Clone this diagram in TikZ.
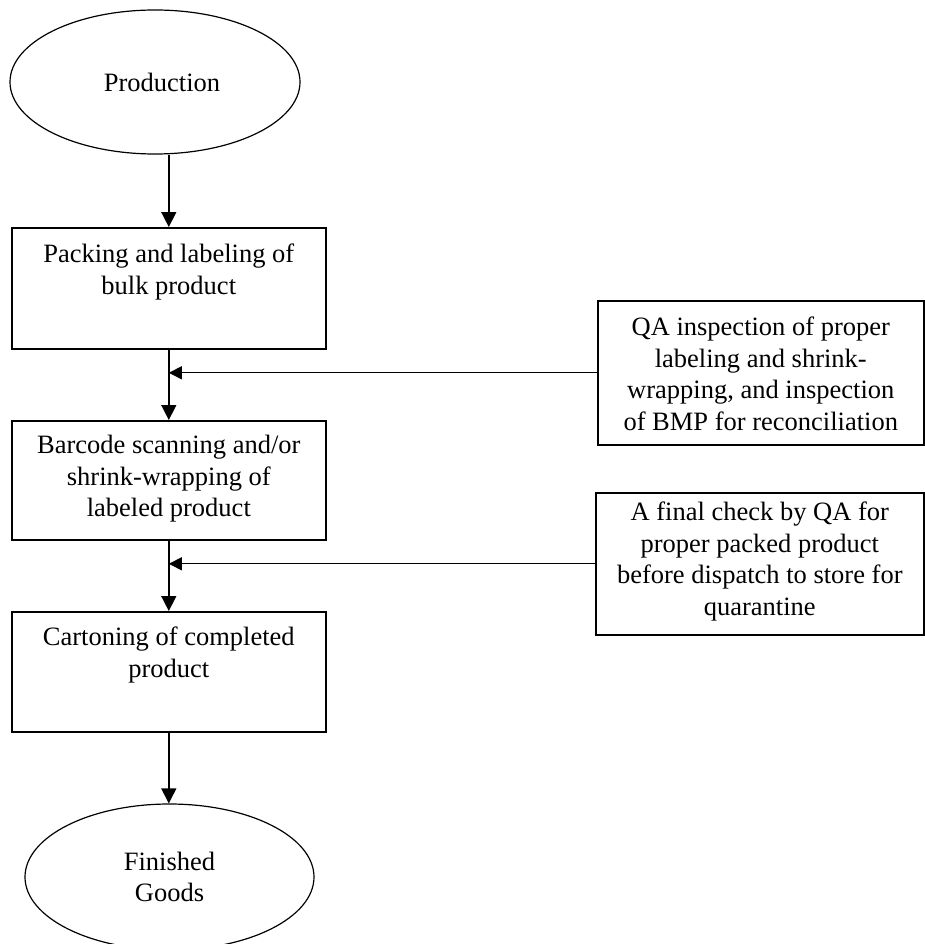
\documentclass[tikz,border=0pt]{standalone}
\usepackage{fontspec}
\setmainfont{Liberation Serif}
\usetikzlibrary{arrows.meta,shapes.geometric}
\newcommand{\boxtxt}[4]{\begin{minipage}[c][#2][t]{#1}\centering\rule{0pt}{#3}#4\end{minipage}}
\begin{document}
\begin{tikzpicture}[x=1pt,y=-1pt,
  every node/.style={font=\fontsize{26.5}{31.5}\selectfont},
  oval/.style={ellipse, draw, line width=1.2pt, inner sep=0pt, align=center},
  procbox/.style={draw, line width=1.6pt, rectangle, inner sep=0pt, anchor=north west},
  arr/.style={line width=1.5pt, -{Triangle[length=15pt,width=15pt]}},
  harr/.style={line width=1.3pt, -{Triangle[length=13pt,width=13pt]}}]
\useasboundingbox (0,0) rectangle (925,944);
\node[oval, minimum width=290pt, minimum height=144pt] (prod) at (155,82) {\hspace*{14pt}Production};
\node[procbox, minimum width=314pt, minimum height=121pt] (b1) at (11,227)
  {\boxtxt{314pt}{121pt}{35pt}{Packing and labeling of\\bulk product}};
\node[procbox, minimum width=314pt, minimum height=119pt] (b2) at (11,420)
  {\boxtxt{314pt}{119pt}{33pt}{Barcode scanning and/or\\shrink-wrapping of\\labeled product}};
\node[procbox, minimum width=314pt, minimum height=120pt] (b3) at (11,611)
  {\boxtxt{314pt}{120pt}{34pt}{Cartoning of completed\\product}};
\node[oval, minimum width=289pt, minimum height=146pt] (fin) at (169.5,877) {Finished\\Goods};
\node[procbox, minimum width=326pt, minimum height=144pt] (q1) at (597,300)
  {\boxtxt{326pt}{144pt}{35pt}{QA inspection of proper\\labeling and shrink-\\wrapping, and inspection\\of BMP for reconciliation}};
\node[procbox, minimum width=328pt, minimum height=142pt] (q2) at (595,492)
  {\boxtxt{328pt}{142pt}{28pt}{A final check by QA for\\proper packed product\\before dispatch to store for\\quarantine}};
\draw[arr] (prod.south -| b1.north) -- (b1.north);
\draw[arr] (b1.south) -- (b2.north);
\draw[arr] (b2.south) -- (b3.north);
\draw[arr] (b3.south) -- (b3.south |- fin.north);
\draw[harr] (q1.west) -- (q1.west -| b1.south);
\draw[harr] (q2.west) -- (q2.west -| b2.south);
\end{tikzpicture}
\end{document}
